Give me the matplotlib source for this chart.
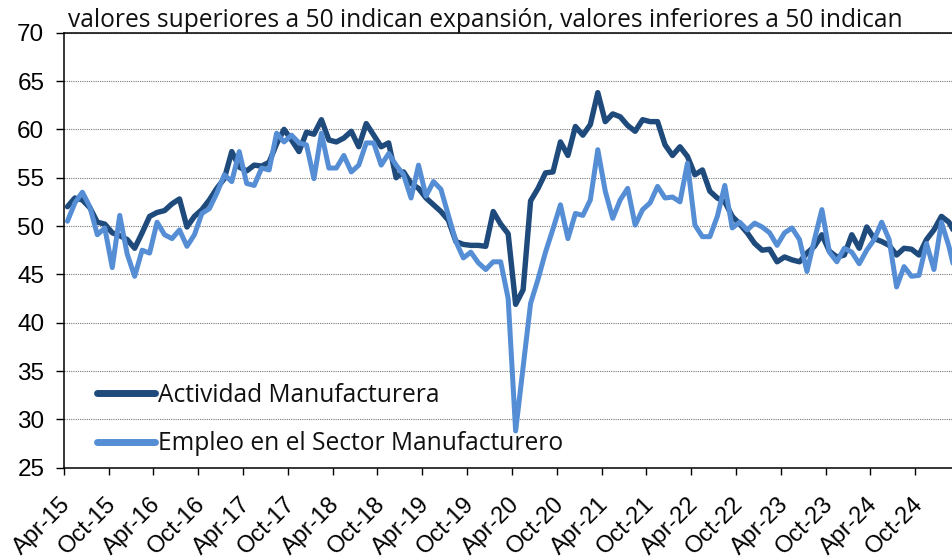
import numpy as np
import matplotlib
matplotlib.use("Agg")
import matplotlib.pyplot as plt
import matplotlib.transforms as mtransforms

# ---------------- data ----------------
tick_labels = ["Apr-15", "Oct-15", "Apr-16", "Oct-16", "Apr-17", "Oct-17", "Apr-18",
               "Oct-18", "Apr-19", "Oct-19", "Apr-20", "Oct-20", "Apr-21", "Oct-21",
               "Apr-22", "Oct-22", "Apr-23", "Oct-23", "Apr-24", "Oct-24"]

# monthly values, Apr-2015 .. Mar-2025
actividad = [
    52.0, 52.9, 52.7, 51.9, 50.4, 50.2, 49.3, 49.0, 48.6, 47.7, 49.3, 51.0,   # Apr-15..Mar-16
    51.4, 51.6, 52.3, 52.8, 49.9, 51.0, 51.7, 52.7, 53.9, 54.9, 57.7, 56.1,   # Apr-16..Mar-17
    55.7, 56.3, 56.2, 56.6, 58.5, 60.0, 58.9, 57.7, 59.7, 59.5, 61.0, 58.9,   # Apr-17..Mar-18
    58.7, 59.1, 59.8, 58.2, 60.6, 59.4, 58.2, 58.6, 55.0, 55.6, 54.4, 53.9,   # Apr-18..Mar-19
    52.9, 52.2, 51.5, 50.6, 48.4, 48.1, 48.0, 48.0, 47.9, 51.5, 50.2, 49.2,   # Apr-19..Mar-20
    41.9, 43.4, 52.6, 53.9, 55.5, 55.6, 58.7, 57.3, 60.3, 59.4, 60.5, 63.8,   # Apr-20..Mar-21
    60.8, 61.6, 61.3, 60.4, 59.8, 61.0, 60.8, 60.8, 58.4, 57.3, 58.2, 57.2,   # Apr-21..Mar-22
    55.3, 55.8, 53.6, 52.9, 52.5, 51.0, 50.2, 49.3, 48.2, 47.5, 47.6, 46.3,   # Apr-22..Mar-23
    46.8, 46.5, 46.3, 47.2, 47.9, 49.1, 47.4, 46.8, 47.0, 49.1, 47.7, 49.9,   # Apr-23..Mar-24
    48.7, 48.4, 48.0, 47.0, 47.7, 47.6, 47.0, 48.6, 49.6, 51.0, 50.4, 49.0,   # Apr-24..Mar-25
]
empleo = [
    50.5, 52.4, 53.5, 52.0, 49.1, 49.8, 45.7, 51.1, 47.1, 44.8, 47.5, 47.2,   # Apr-15..Mar-16
    50.4, 49.1, 48.7, 49.6, 47.9, 49.1, 51.3, 51.8, 53.4, 55.3, 54.6, 57.7,   # Apr-16..Mar-17
    54.4, 54.2, 56.0, 55.8, 59.6, 58.7, 59.4, 58.6, 58.4, 54.9, 59.6, 56.0,   # Apr-17..Mar-18
    56.0, 57.3, 55.6, 56.3, 58.6, 58.6, 56.3, 57.5, 56.3, 55.3, 52.9, 56.3,   # Apr-18..Mar-19
    53.1, 54.6, 53.8, 51.1, 48.4, 46.7, 47.3, 46.2, 45.5, 46.3, 46.3, 42.5,   # Apr-19..Mar-20
    28.8, 35.4, 42.0, 44.5, 47.3, 49.7, 52.2, 48.7, 51.3, 51.1, 52.7, 57.9,   # Apr-20..Mar-21
    53.6, 50.8, 52.7, 53.9, 50.1, 51.7, 52.4, 54.1, 52.9, 53.0, 52.5, 56.5,   # Apr-21..Mar-22
    50.1, 48.9, 48.9, 51.0, 54.2, 49.8, 50.4, 49.6, 50.3, 49.9, 49.3, 48.0,   # Apr-22..Mar-23
    49.3, 49.8, 48.6, 45.3, 48.6, 51.7, 47.3, 46.3, 47.7, 47.3, 46.1, 47.5,   # Apr-23..Mar-24
    48.6, 50.4, 48.6, 43.7, 45.8, 44.8, 44.9, 48.2, 45.5, 50.4, 47.9, 44.7,   # Apr-24..Mar-25
]
series_names = ["Actividad Manufacturera", "Empleo en el Sector Manufacturero"]
title_text = "valores superiores a 50 indican expansión, valores inferiores a 50 indican"

# ---------------- figure ----------------
W, H, DPI = 953, 560, 100
fig = plt.figure(figsize=(W / DPI, H / DPI), dpi=DPI)
fig.patch.set_facecolor("white")

x_left, x_right = 63.7, 953.0
y_top, y_bot = 32.7, 467.7
ax = fig.add_axes([x_left / W, 1 - y_bot / H, (x_right - x_left) / W, (y_bot - y_top) / H])

dark = "#1F4A7C"
light = "#558ED5"
months = np.arange(len(actividad)) + 0.5

ax.plot(months, actividad, color=dark, lw=3.9, solid_capstyle="round",
        solid_joinstyle="round", label=series_names[0], zorder=3)
ax.plot(months, empleo, color=light, lw=3.6, solid_capstyle="round",
        solid_joinstyle="round", label=series_names[1], zorder=4)

ax.set_xlim(0, 119.05)
ax.set_ylim(25, 70)
ax.set_yticks(np.arange(25, 71, 5))
ax.set_xticks(np.arange(len(tick_labels)) * 6)

tick_font = "Liberation Sans"
ax.set_yticklabels([str(v) for v in range(25, 71, 5)], fontsize=17.5, family=tick_font)
ax.set_xticklabels(tick_labels, fontsize=17, family=tick_font, rotation=45,
                   ha="right", va="center", rotation_mode="anchor")

ax.tick_params(axis="y", direction="out", length=6, width=1, pad=8, color="black")
ax.tick_params(axis="x", direction="out", length=5, width=1, pad=19, color="black")
offset = mtransforms.ScaledTranslation(4 / DPI, 0, fig.dpi_scale_trans)
for lab in ax.get_xticklabels():
    lab.set_transform(lab.get_transform() + offset)

# gridlines (dotted) except top (solid spine)
ax.yaxis.grid(True, linestyle=(0, (1, 1)), color="#7a7a7a", linewidth=0.8, zorder=0)
ax.set_axisbelow(True)

for side in ["left", "bottom", "top"]:
    ax.spines[side].set_color("black")
    ax.spines[side].set_linewidth(1.1)
ax.spines["right"].set_visible(False)

# ---------------- text helpers ----------------
renderer = fig.canvas.get_renderer()

def fit_size(text, family, target_px, base=16.0):
    t = fig.text(0, 0, text, fontsize=base, family=family)
    w = t.get_window_extent(renderer).width
    t.remove()
    return base * target_px / w

text_font = "Open Sans"
ts = fit_size(title_text, text_font, 834)
fig.text(68 / W, 1 - 27 / H, title_text, fontsize=ts, family=text_font,
         ha="left", va="baseline", color="#111111")

ls = fit_size(series_names[1], text_font, 405)
ls_px = ls * DPI / 72
leg = ax.legend(loc="center left", bbox_to_anchor=(97, H - 419.7),
                bbox_transform=mtransforms.IdentityTransform(), frameon=False,
                prop={"family": text_font, "size": ls},
                handlelength=58 / ls_px, handletextpad=3 / ls_px,
                labelspacing=0.96, borderpad=0, borderaxespad=0)
for t in leg.get_texts():
    t.set_color("#111111")
for h in leg.get_lines():
    h.set_linewidth(5.0)
    h.set_solid_capstyle("round")

fig.savefig("out.png", dpi=DPI, facecolor="white")
